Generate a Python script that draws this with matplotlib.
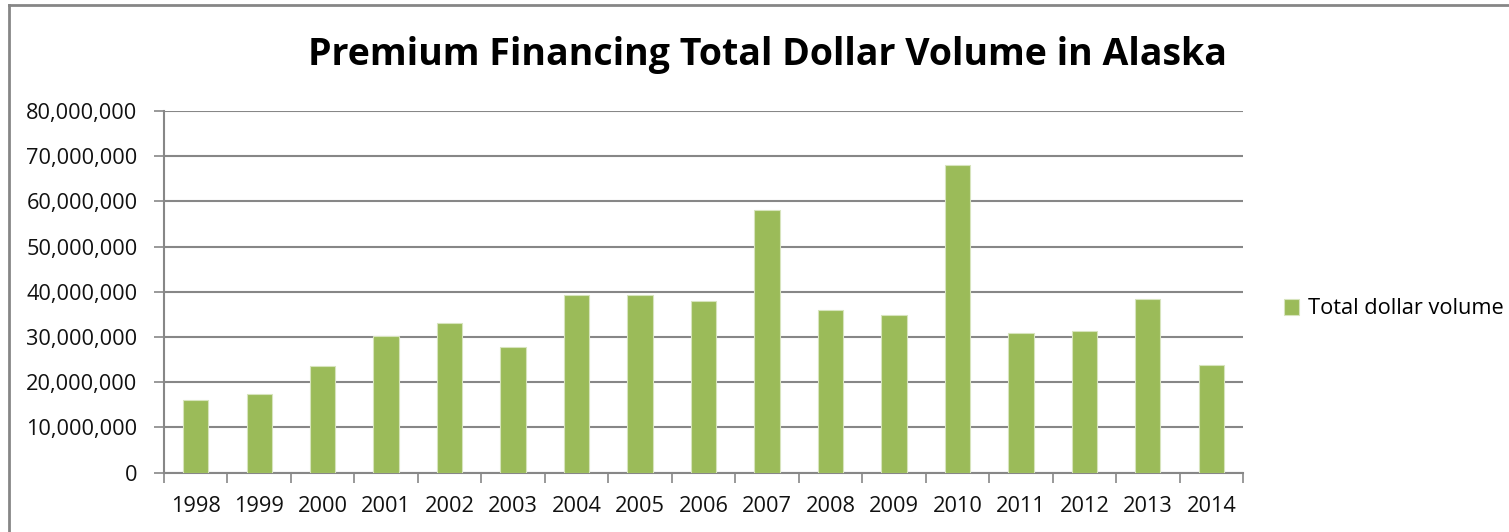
import matplotlib.pyplot as plt
from matplotlib.lines import Line2D
from matplotlib.ticker import FuncFormatter, MultipleLocator

# Data
years = ['1998', '1999', '2000', '2001', '2002', '2003', '2004', '2005', '2006',
         '2007', '2008', '2009', '2010', '2011', '2012', '2013', '2014']
volume = [16.0e6, 17.45e6, 23.5e6, 30.2e6, 33.0e6, 27.8e6, 39.2e6, 39.4e6, 38.0e6,
          58.2e6, 36.0e6, 34.8e6, 68.0e6, 31.0e6, 31.35e6, 38.5e6, 23.9e6]

plt.rcParams['font.family'] = ['Open Sans', 'DejaVu Sans']

fig = plt.figure(figsize=(15.09, 5.32), dpi=100)
ax = fig.add_axes([164 / 1509, 59.3 / 532, 1079 / 1509, 361.7 / 532])

x = list(range(len(years)))
ax.bar(x, volume, width=0.40, color='#9BBB59', edgecolor='#D7E4BD', linewidth=0.8,
       zorder=3, label='Total dollar volume')

ax.set_xlim(-0.5, len(years) - 0.5)
ax.set_ylim(0, 80e6)
ax.yaxis.set_major_locator(MultipleLocator(10e6))
ax.yaxis.set_major_formatter(FuncFormatter(lambda v, p: f'{int(v):,}'))
ax.grid(axis='y', color='#878787', linewidth=1.5, zorder=0)

# category labels at centers, tick marks between categories
ax.set_xticks(x)
ax.set_xticklabels(years)
ax.set_xticks([i - 0.5 for i in range(len(years) + 1)], minor=True)
ax.tick_params(axis='x', which='major', length=0, pad=17, labelsize=15.7, labelcolor='#111111')
ax.tick_params(axis='x', which='minor', length=7, width=1.2, color='#878787', direction='out')
ax.tick_params(axis='y', length=7, width=1.2, color='#878787', pad=12, labelsize=15.7,
               labelcolor='#111111')

for s in ['top', 'right']:
    ax.spines[s].set_visible(False)
for s in ['left', 'bottom']:
    ax.spines[s].set_color('#878787')
    ax.spines[s].set_linewidth(1.5)

fig.text(768 / 1509, 1 - 55 / 532, 'Premium Financing Total Dollar Volume in Alaska',
         ha='center', va='center', fontsize=27, fontweight='bold')

ax.legend(loc='center left', bbox_to_anchor=(1273 / 1509, 1 - 309 / 532),
          bbox_transform=fig.transFigure, frameon=False, fontsize=15.7,
          handlelength=0.7, handleheight=0.7, handletextpad=0.4, borderpad=0)

# outer chart border (left and top visible)
fig.add_artist(Line2D([9 / 1509, 9 / 1509], [0, 1 - 5 / 532], transform=fig.transFigure,
                      color='#868686', linewidth=2))
fig.add_artist(Line2D([9 / 1509, 1], [1 - 5 / 532, 1 - 5 / 532], transform=fig.transFigure,
                      color='#868686', linewidth=2))

fig.savefig('out.png', dpi=100)
